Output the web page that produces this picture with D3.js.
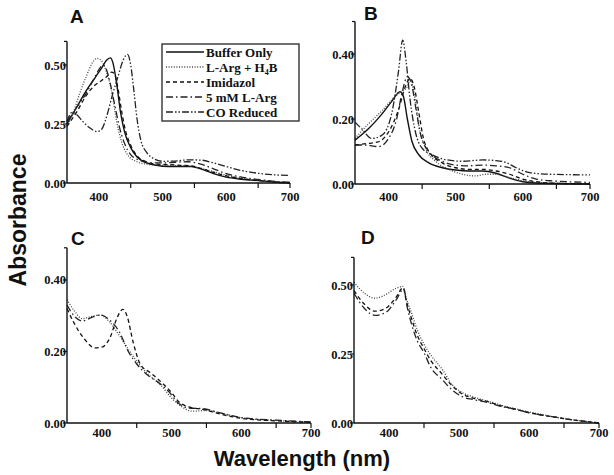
<!DOCTYPE html>
<html><head><meta charset="utf-8">
<script src="https://cdn.jsdelivr.net/npm/d3@7"></script>
<style>body{margin:0;background:#fff}svg{display:block}</style>
</head><body>
<svg id="c" width="614" height="475"></svg>
<script>
// ---- data (wavelength nm, absorbance) ----
const seriesNames = ["Buffer Only", "L-Arg + H4B", "Imidazol", "5 mM L-Arg", "CO Reduced"];
const xTickLabels = [400, 500, 600, 700];
const xMinorTicks = [450, 550, 650, 700];
const yTicksA = [0, 0.25, 0.5], yTicksB = [0, 0.2, 0.4], yTicksC = [0, 0.2, 0.4], yTicksD = [0, 0.25, 0.5];

const A_buffer = [[350,0.25],[365,0.32],[380,0.39],[395,0.45],[405,0.49],[412,0.52],[418,0.53],[422,0.51],[428,0.42],[434,0.3],[440,0.22],[450,0.15],[460,0.11],[475,0.085],[490,0.075],[510,0.07],[530,0.07],[545,0.07],[560,0.06],[580,0.04],[600,0.025],[620,0.017],[640,0.012],[660,0.008],[680,0.003],[700,0]];
const A_larg = [[350,0.24],[360,0.3],[370,0.38],[380,0.45],[390,0.51],[397,0.528],[405,0.515],[412,0.47],[420,0.39],[428,0.26],[435,0.18],[445,0.12],[460,0.09],[480,0.078],[500,0.075],[520,0.074],[540,0.072],[560,0.062],[580,0.048],[600,0.033],[620,0.022],[640,0.014],[660,0.008],[680,0.003],[700,0]];
const A_imid = [[350,0.24],[365,0.3],[380,0.37],[392,0.41],[402,0.43],[412,0.45],[420,0.47],[425,0.46],[430,0.4],[436,0.3],[442,0.22],[450,0.16],[460,0.115],[475,0.09],[490,0.08],[510,0.078],[530,0.075],[545,0.073],[560,0.062],[580,0.045],[600,0.03],[620,0.02],[640,0.013],[660,0.008],[680,0.004],[700,0]];
const A_5mm = [[350,0.26],[365,0.32],[380,0.38],[392,0.44],[400,0.48],[406,0.5],[412,0.48],[418,0.42],[425,0.33],[432,0.24],[440,0.17],[450,0.12],[465,0.095],[480,0.085],[500,0.085],[520,0.088],[540,0.09],[560,0.08],[580,0.06],[600,0.04],[620,0.027],[640,0.018],[660,0.012],[680,0.006],[700,0.003]];
const A_co = [[350,0.26],[358,0.3],[365,0.29],[375,0.26],[385,0.235],[397,0.218],[405,0.23],[412,0.28],[422,0.38],[430,0.45],[438,0.52],[445,0.545],[450,0.5],[455,0.39],[460,0.27],[466,0.18],[475,0.13],[485,0.105],[500,0.092],[520,0.093],[540,0.098],[560,0.097],[580,0.085],[600,0.07],[620,0.055],[640,0.045],[660,0.038],[680,0.034],[700,0.032]];

const B_buffer = [[350,0.135],[370,0.17],[390,0.215],[405,0.255],[417,0.284],[422,0.27],[428,0.2],[435,0.13],[445,0.09],[460,0.065],[480,0.05],[500,0.043],[520,0.04],[540,0.04],[560,0.033],[580,0.018],[600,0.007],[620,0.003],[700,0]];
const B_larg = [[350,0.14],[370,0.185],[390,0.225],[410,0.27],[420,0.285],[428,0.3],[432,0.32],[438,0.28],[445,0.18],[455,0.11],[470,0.07],[490,0.045],[510,0.03],[530,0.025],[545,0.03],[560,0.03],[580,0.02],[600,0.01],[620,0.005],[700,0]];
const B_imid = [[350,0.12],[370,0.125],[385,0.13],[400,0.16],[415,0.23],[425,0.3],[432,0.325],[438,0.3],[445,0.22],[452,0.14],[460,0.1],[480,0.065],[500,0.05],[520,0.045],[540,0.045],[560,0.04],[580,0.03],[600,0.015],[620,0.007],[640,0.003],[700,0]];
const B_5mm = [[350,0.12],[365,0.12],[385,0.115],[400,0.14],[412,0.2],[420,0.28],[428,0.33],[434,0.31],[440,0.24],[448,0.15],[460,0.1],[480,0.07],[500,0.058],[520,0.056],[540,0.058],[560,0.056],[580,0.05],[600,0.03],[620,0.015],[640,0.01],[700,0.005]];
const B_co = [[350,0.19],[360,0.17],[375,0.14],[390,0.15],[405,0.22],[415,0.35],[421,0.443],[426,0.38],[432,0.26],[440,0.16],[450,0.11],[465,0.09],[485,0.075],[510,0.07],[540,0.074],[560,0.072],[575,0.066],[590,0.05],[610,0.035],[640,0.03],[700,0.028]];

const C_larg = [[350,0.345],[360,0.315],[372,0.292],[385,0.298],[398,0.302],[410,0.285],[425,0.245],[440,0.2],[455,0.16],[470,0.13],[485,0.105],[500,0.07],[515,0.045],[530,0.033],[550,0.035],[570,0.028],[600,0.015],[650,0.007],[700,0.002]];
const C_imid = [[350,0.32],[360,0.28],[375,0.235],[390,0.21],[400,0.212],[412,0.24],[422,0.295],[430,0.318],[436,0.3],[445,0.225],[455,0.165],[470,0.14],[485,0.115],[500,0.085],[510,0.06],[525,0.045],[545,0.038],[570,0.025],[600,0.013],[650,0.006],[700,0.002]];
const C_5mm = [[350,0.33],[360,0.3],[372,0.285],[385,0.295],[398,0.302],[410,0.29],[425,0.255],[438,0.2],[450,0.165],[465,0.135],[480,0.115],[495,0.09],[510,0.055],[525,0.042],[545,0.04],[570,0.028],[600,0.015],[650,0.008],[700,0.003]];

const D_larg = [[350,0.51],[365,0.47],[380,0.452],[395,0.465],[410,0.488],[420,0.495],[425,0.45],[432,0.4],[440,0.34],[450,0.285],[460,0.245],[475,0.198],[490,0.14],[505,0.11],[520,0.095],[540,0.08],[560,0.065],[580,0.052],[600,0.04],[620,0.03],[640,0.02],[660,0.013],[680,0.006],[700,0]];
const D_imid = [[350,0.48],[365,0.43],[380,0.405],[395,0.415],[410,0.455],[420,0.49],[425,0.44],[432,0.38],[440,0.32],[450,0.27],[460,0.225],[475,0.18],[490,0.135],[505,0.105],[520,0.09],[540,0.078],[560,0.062],[580,0.05],[600,0.038],[620,0.028],[640,0.02],[660,0.012],[680,0.006],[700,0]];
const D_5mm = [[350,0.47],[365,0.415],[380,0.39],[395,0.4],[410,0.445],[421,0.485],[426,0.42],[432,0.36],[440,0.3],[450,0.255],[460,0.2],[475,0.16],[490,0.12],[505,0.095],[520,0.085],[540,0.075],[560,0.06],[580,0.05],[600,0.037],[620,0.028],[640,0.02],[660,0.012],[680,0.006],[700,0]];

// ---- styles ----
const styles = {
  "Buffer Only": {dash: null, color: "#111", w: 1.4},
  "L-Arg + H4B": {dash: "1,1.6", color: "#444", w: 1.3},
  "Imidazol": {dash: "4,3", color: "#111", w: 1.3},
  "5 mM L-Arg": {dash: "7,3,1.5,3", color: "#222", w: 1.3},
  "CO Reduced": {dash: "7,2,1.5,2,1.5,2", color: "#222", w: 1.3}
};

const panels = [
  {label: "A", lx: 70, ly: 23, x0: 67, x1: 290, yb: 183, yMax: 0.6, yt: 41.4, yTicks: yTicksA, lblGap: 18,
   series: [["Buffer Only", A_buffer], ["L-Arg + H4B", A_larg], ["Imidazol", A_imid], ["5 mM L-Arg", A_5mm], ["CO Reduced", A_co]]},
  {label: "B", lx: 364, ly: 20, x0: 355, x1: 590, yb: 184, yMax: 0.5, yt: 21.5, yTicks: yTicksB, lblGap: 17,
   series: [["Buffer Only", B_buffer], ["L-Arg + H4B", B_larg], ["Imidazol", B_imid], ["5 mM L-Arg", B_5mm], ["CO Reduced", B_co]]},
  {label: "C", lx: 71, ly: 245, x0: 67, x1: 311, yb: 423, yMax: 0.49, yt: 247.8, yTicks: yTicksC, lblGap: 14,
   series: [["L-Arg + H4B", C_larg], ["Imidazol", C_imid], ["5 mM L-Arg", C_5mm]]},
  {label: "D", lx: 361, ly: 244, x0: 354, x1: 599, yb: 423, yMax: 0.6, yt: 257.4, yTicks: yTicksD, lblGap: 14,
   series: [["L-Arg + H4B", D_larg], ["Imidazol", D_imid], ["5 mM L-Arg", D_5mm]]}
];

const svg = d3.select("#c");
const serif = "'Liberation Serif','Times New Roman',serif";
const sans = "'Liberation Sans',Arial,sans-serif";
const fmt = d3.format(".2f");

panels.forEach(p => {
  const x = d3.scaleLinear().domain([350, 700]).range([p.x0, p.x1]);
  const y = d3.scaleLinear().domain([0, p.yMax]).range([p.yb, p.yt]);
  const g = svg.append("g");

  // curves
  const line = d3.line().x(d => x(d[0])).y(d => y(d[1])).curve(d3.curveMonotoneX);
  p.series.forEach(([name, data]) => {
    const s = styles[name];
    g.append("path").attr("d", line(data)).attr("fill", "none")
      .attr("stroke", s.color).attr("stroke-width", s.w)
      .attr("stroke-dasharray", s.dash);
  });

  // axes
  g.append("line").attr("x1", p.x0).attr("x2", p.x0).attr("y1", p.yt).attr("y2", p.yb).attr("stroke", "#111").attr("stroke-width", 1.4);
  g.append("line").attr("x1", p.x0).attr("x2", p.x1).attr("y1", p.yb).attr("y2", p.yb).attr("stroke", "#111").attr("stroke-width", 1.4);
  g.append("line").attr("x1", p.x0 - 3).attr("x2", p.x0).attr("y1", p.yt).attr("y2", p.yt).attr("stroke", "#111").attr("stroke-width", 1.2);

  p.yTicks.forEach(v => {
    g.append("line").attr("x1", p.x0 - 4).attr("x2", p.x0).attr("y1", y(v)).attr("y2", y(v)).attr("stroke", "#111").attr("stroke-width", 1.2);
    g.append("text").attr("x", p.x0 - 1).attr("y", y(v) + 4.5).attr("text-anchor", "end")
      .attr("font-family", serif).attr("font-weight", "bold").attr("font-size", 12.5).attr("fill", "#111").text(fmt(v));
  });
  xMinorTicks.forEach(v => {
    g.append("line").attr("x1", x(v)).attr("x2", x(v)).attr("y1", p.yb).attr("y2", p.yb + 5).attr("stroke", "#111").attr("stroke-width", 1.2);
  });
  xTickLabels.forEach(v => {
    g.append("text").attr("x", x(v)).attr("y", p.yb + p.lblGap).attr("text-anchor", "middle")
      .attr("font-family", serif).attr("font-weight", "bold").attr("font-size", 12.5).attr("fill", "#111").text(v);
  });

  g.append("text").attr("x", p.lx).attr("y", p.ly).attr("font-family", sans).attr("font-weight", "bold")
    .attr("font-size", 19).attr("fill", "#111").text(p.label);
});

// legend (panel A)
const leg = svg.append("g");
leg.append("rect").attr("x", 162).attr("y", 44).attr("width", 137).attr("height", 77)
  .attr("fill", "#fff").attr("stroke", "#333").attr("stroke-width", 1.4);
seriesNames.forEach((name, i) => {
  const cy = 52 + i * 15;
  const s = styles[name];
  leg.append("line").attr("x1", 166).attr("x2", 204).attr("y1", cy).attr("y2", cy)
    .attr("stroke", s.color).attr("stroke-width", s.w).attr("stroke-dasharray", s.dash);
  const t = leg.append("text").attr("x", 206).attr("y", cy + 4.5).attr("font-family", serif)
    .attr("font-weight", "bold").attr("font-size", 13).attr("fill", "#111");
  if (name === "L-Arg + H4B") {
    t.append("tspan").text("L-Arg + H");
    t.append("tspan").attr("font-size", 8).attr("dy", 3).text("4");
    t.append("tspan").attr("dy", -3).text("B");
  } else t.text(name);
});

// axis titles
svg.append("text").attr("transform", "translate(26,220) rotate(-90)").attr("text-anchor", "middle")
  .attr("font-family", sans).attr("font-weight", "bold").attr("font-size", 23).attr("fill", "#111").text("Absorbance");
svg.append("text").attr("x", 302).attr("y", 466).attr("text-anchor", "middle")
  .attr("font-family", sans).attr("font-weight", "bold").attr("font-size", 22).attr("fill", "#111").text("Wavelength (nm)");
</script>
</body></html>
